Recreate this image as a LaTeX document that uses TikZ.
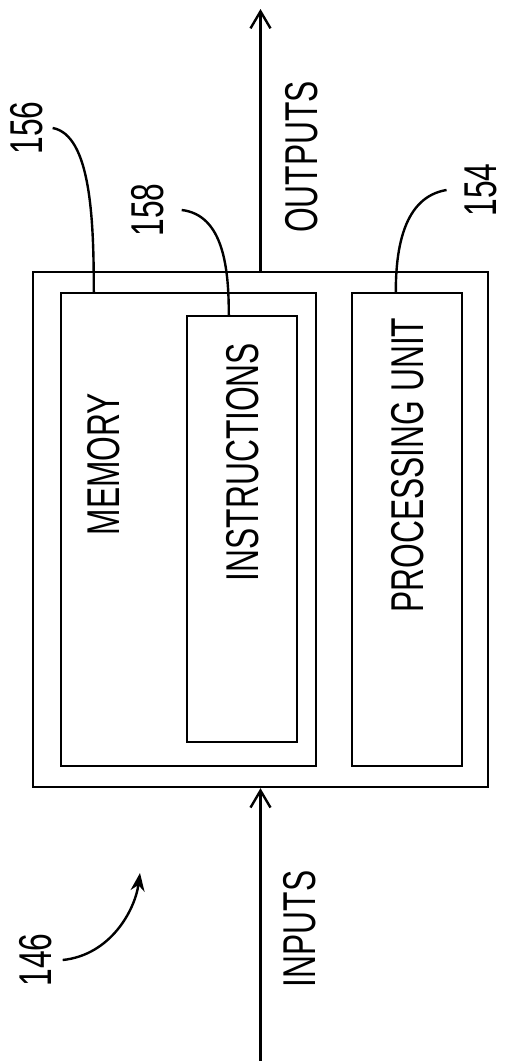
\documentclass[tikz,border=0pt]{standalone}
\usepackage{fontspec}
\setmainfont{Liberation Sans}[FakeStretch=0.69]
\usetikzlibrary{arrows.meta}
\tikzstyle{blk} = [rectangle, draw=black, line width=1.2pt, inner sep=0pt]
\tikzstyle{txt} = [rotate=90, inner sep=0pt, font=\fontsize{23}{27}\selectfont]
\tikzstyle{ldr} = [line width=1.2pt]
\tikzstyle{arrow} = [line width=1.2pt, -{Straight Barb[length=8.5pt,width=10pt]}]
\begin{document}
\begin{tikzpicture}[x=0.5pt, y=-0.5pt]
\useasboundingbox (0,0) rectangle (504,1061);
% boxes
\node[blk, minimum width=227.5pt, minimum height=257.5pt] (outer) at (260.5,529.5) {};
\node[blk, minimum width=127.5pt, minimum height=236.5pt] (mem) at (188.5,529.5) {};
\node[blk, minimum width=55pt, minimum height=213pt] (instr) at (242,529) {};
\node[blk, minimum width=55pt, minimum height=236.5pt] (pu) at (407,529.5) {};
% texts
\node[txt] (memtxt) at (104,464) {MEMORY};
\node[txt] (instrtxt) at (243,462) {INSTRUCTIONS};
\node[txt] (putxt) at (408,465) {PROCESSING UNIT};
\node[txt] (outtxt) at (302,157) {OUTPUTS};
\node[txt] (intxt) at (300,929) {INPUTS};
% reference numbers
\node[txt] (n156) at (27,128) {156};
\node[txt] (n158) at (148,210) {158};
\node[txt] (n154) at (481,190) {154};
\node[txt] (n146) at (36,960) {146};
% inputs / outputs
\coordinate (outend) at (260.5,9);
\coordinate (instart) at (260.5,1061);
\draw[arrow] (outer.north) -- (outend);
\draw[arrow] (instart) -- (outer.south);
% leaders
\draw[ldr] ([xshift=4.5pt]n156.south) .. controls +(38,7) and +(0,-73) .. ([xshift=17pt]mem.north west);
\draw[ldr] ([xshift=8.5pt]n158.south) .. controls +(42,5) and +(0,-46) .. ([xshift=21.5pt]instr.north west);
\draw[ldr] ([xshift=-9pt]n154.north) .. controls +(-43,7) and +(0,-43) .. ([xshift=22.5pt]pu.north west);
\draw[ldr, -{Stealth[length=9pt,width=7pt]}] ([xshift=5pt]n146.south) .. controls +(48,-5) and +(-5,37) .. (140,873);
\end{tikzpicture}
\end{document}
